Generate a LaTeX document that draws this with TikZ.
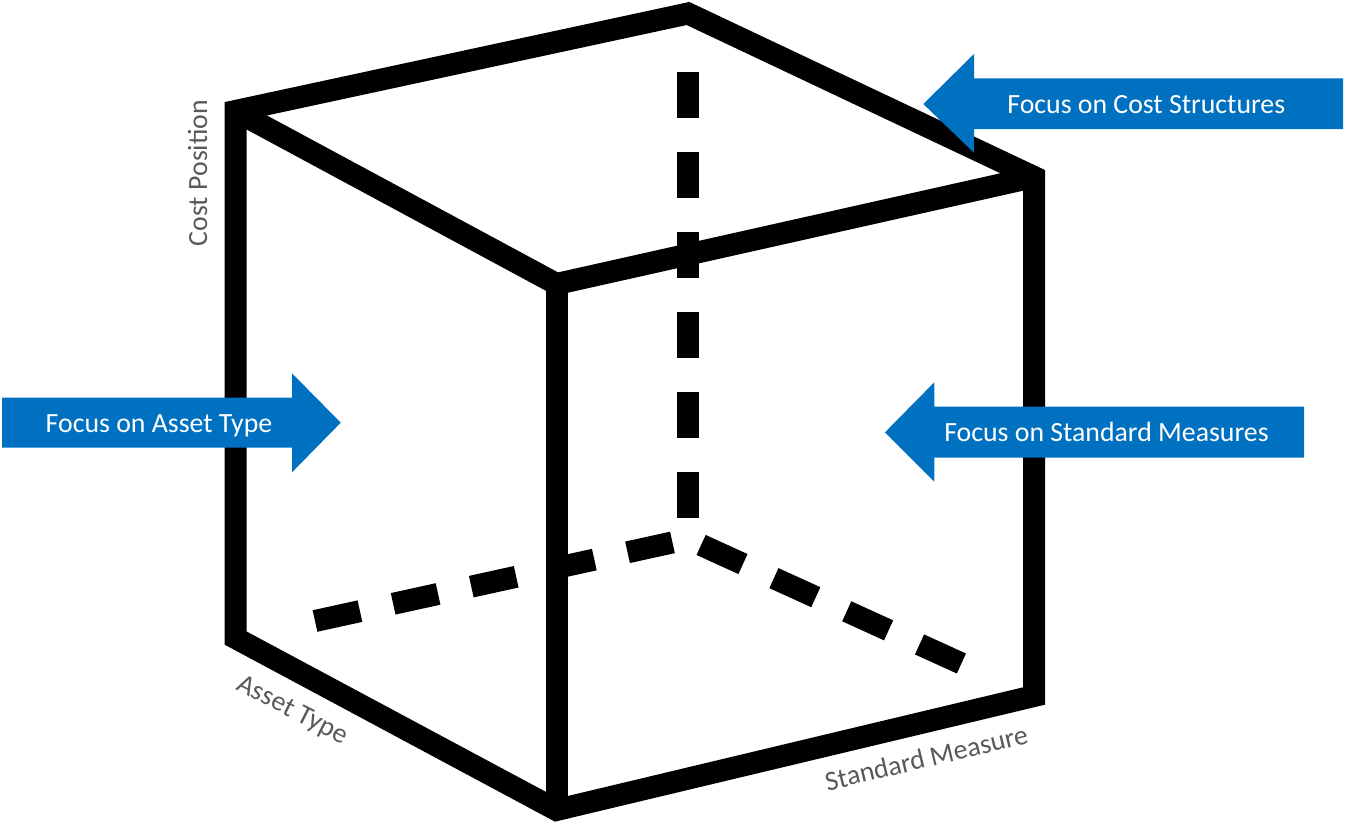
\documentclass[tikz,border=0pt]{standalone}
\usepackage{fontspec}
\setmainfont{Carlito}
\definecolor{arrowblue}{HTML}{0070C0}
\definecolor{labelgray}{HTML}{595959}
\begin{document}
\begin{tikzpicture}[x=1pt,y=-1pt,
  edge/.style={line width=22pt, line join=miter, draw=black},
  hidden/.style={line width=22pt, draw=black, dash pattern=on 46pt off 34pt},
  bluearrow/.style={fill=arrowblue},
  arrowtext/.style={text=white, font=\fontsize{27.8}{33}\selectfont, inner sep=0pt, anchor=base},
  axislabel/.style={text=labelgray, font=\fontsize{27.8}{33}\selectfont, inner sep=0pt, anchor=base}]
\useasboundingbox (0,0) rectangle (1345,822);
% cube vertices
\coordinate (TL) at (235.5,111);
\coordinate (TB) at (688,13.5);
\coordinate (TR) at (1034,177);
\coordinate (BR) at (1034,696);
\coordinate (BF) at (556.5,810);
\coordinate (BL) at (235.5,638);
\coordinate (F)  at (556.5,284);
% hidden vertex and dashed ends
\coordinate (HV) at (688,539);
\coordinate (VT) at (688,72);
\coordinate (LE) at (315,621);
\coordinate (RE) at (961.4,663.5);
% cube edges
\draw[edge] (TL) -- (TB) -- (TR) -- (BR) -- (BF) -- (BL) -- cycle;
\draw[edge] (TL) -- (F) -- (TR);
% hidden edges
\draw[hidden] (VT) -- (HV);
\draw[hidden] (LE) -- (HV);
\draw[hidden] (RE) -- (HV);
% front vertical edge on top of the hidden floor edge
\draw[edge] (F) -- (BF);
% blue arrows
\fill[bluearrow] (2,397.7) -- (292,397.7) -- (292,373.3) -- (340.7,422.7) -- (292,472.3) -- (292,447.7) -- (2,447.7) -- cycle;
\fill[bluearrow] (1343,78.3) -- (974,78.3) -- (974,54) -- (923.3,104) -- (974,152.7) -- (974,129) -- (1343,129) -- cycle;
\fill[bluearrow] (1304,406.7) -- (934.3,406.7) -- (934.3,382.3) -- (885,432.3) -- (934.3,481.7) -- (934.3,457.7) -- (1304,457.7) -- cycle;
% arrow texts
\node[arrowtext] (tasset) at (159,432.7) {Focus on Asset Type};
\node[arrowtext] (tcost) at (1146.3,113.3) {Focus on Cost Structures};
\node[arrowtext] (tstd) at (1106.5,441.7) {Focus on Standard Measures};
% axis labels
\node[axislabel, rotate=90] (lcost) at (207,173) {Cost Position};
\node[axislabel, rotate=-27] (lasset) at (289,717) {Asset Type};
\node[axislabel, rotate=13.4] (lstd) at (928.5,767) {Standard Measure};
\end{tikzpicture}
\end{document}
